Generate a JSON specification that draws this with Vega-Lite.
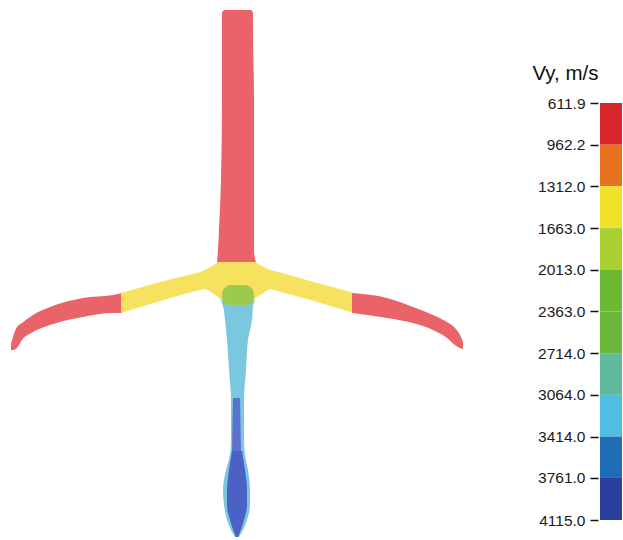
{
  "$schema": "https://vega.github.io/schema/vega-lite/v6.json",
  "padding": 0,
  "bounds": "flush",
  "spacing": 120,
  "background": "white",
  "config": {"font": "Liberation Sans", "view": {"stroke": null}},
  "datasets": {
    "body": [
      {"part": "stem", "lo": 611.9, "v": 265, "xl": -6.5, "xr": 7},
      {"part": "stem", "lo": 611.9, "v": 263.5, "xl": -7.5, "xr": 8},
      {"part": "stem", "lo": 611.9, "v": 257.5, "xl": -7.5, "xr": 8},
      {"part": "stem", "lo": 611.9, "v": 220, "xl": -7.5, "xr": 8.5},
      {"part": "stem", "lo": 611.9, "v": 180, "xl": -8, "xr": 8.5},
      {"part": "stem", "lo": 611.9, "v": 155, "xl": -9, "xr": 8.5},
      {"part": "stem", "lo": 611.9, "v": 145, "xl": -9.5, "xr": 8.5},
      {"part": "stem", "lo": 611.9, "v": 138.5, "xl": -10, "xr": 9.5},
      {"part": "junction", "lo": 1312.0, "v": 139, "xl": -9.5, "xr": 9},
      {"part": "junction", "lo": 1312.0, "v": 137.5, "xl": -11.5, "xr": 11.5},
      {"part": "junction", "lo": 1312.0, "v": 136, "xl": -14, "xr": 14.5},
      {"part": "junction", "lo": 1312.0, "v": 133.5, "xl": -18.5, "xr": 18.5},
      {"part": "junction", "lo": 1312.0, "v": 128, "xl": -19, "xr": 19},
      {"part": "junction", "lo": 1312.0, "v": 124, "xl": -13, "xr": 14},
      {"part": "junction", "lo": 1312.0, "v": 121, "xl": -9, "xr": 9.5},
      {"part": "junction", "lo": 1312.0, "v": 119, "xl": -7.5, "xr": 8},
      {"part": "lower", "lo": 3064.0, "v": 120, "xl": -8, "xr": 9},
      {"part": "lower", "lo": 3064.0, "v": 117, "xl": -7, "xr": 8},
      {"part": "lower", "lo": 3064.0, "v": 110, "xl": -6, "xr": 7.5},
      {"part": "lower", "lo": 3064.0, "v": 100, "xl": -5, "xr": 5.5},
      {"part": "lower", "lo": 3064.0, "v": 85, "xl": -4, "xr": 4.5},
      {"part": "lower", "lo": 3064.0, "v": 70, "xl": -3, "xr": 3.5},
      {"part": "lower", "lo": 3064.0, "v": 50, "xl": -3, "xr": 3.5},
      {"part": "lower", "lo": 3064.0, "v": 42.5, "xl": -3.5, "xr": 4},
      {"part": "lower", "lo": 3064.0, "v": 35, "xl": -5.5, "xr": 5.5},
      {"part": "lower", "lo": 3064.0, "v": 25, "xl": -7, "xr": 6.5},
      {"part": "lower", "lo": 3064.0, "v": 17.5, "xl": -6.5, "xr": 6.5},
      {"part": "lower", "lo": 3064.0, "v": 10, "xl": -5, "xr": 5},
      {"part": "lower", "lo": 3064.0, "v": 5, "xl": -3, "xr": 3},
      {"part": "lower", "lo": 3064.0, "v": 1.5, "xl": -1, "xr": 1},
      {"part": "blotch", "lo": 1663.0, "v": 127.5, "xl": -4, "xr": 5},
      {"part": "blotch", "lo": 1663.0, "v": 125, "xl": -7, "xr": 8},
      {"part": "blotch", "lo": 1663.0, "v": 122, "xl": -7.5, "xr": 8.5},
      {"part": "blotch", "lo": 1663.0, "v": 119, "xl": -6.5, "xr": 7.5},
      {"part": "blotch", "lo": 1663.0, "v": 117.5, "xl": -5, "xr": 5.5},
      {"part": "needle", "lo": 3414.0, "v": 71, "xl": -2, "xr": 1.5},
      {"part": "needle", "lo": 3414.0, "v": 44, "xl": -2.5, "xr": 2},
      {"part": "bulb", "lo": 3761.0, "v": 44.5, "xl": -2.5, "xr": 2.5},
      {"part": "bulb", "lo": 3761.0, "v": 35, "xl": -4, "xr": 4},
      {"part": "bulb", "lo": 3761.0, "v": 25, "xl": -5, "xr": 5},
      {"part": "bulb", "lo": 3761.0, "v": 17.5, "xl": -5, "xr": 5},
      {"part": "bulb", "lo": 3761.0, "v": 10, "xl": -3.5, "xr": 3.5},
      {"part": "bulb", "lo": 3761.0, "v": 4, "xl": -1.5, "xr": 1.5},
      {"part": "bulb", "lo": 3761.0, "v": 1.5, "xl": -0.5, "xr": 0.5}
    ],
    "arms": [
      {"part": "leftTip", "lo": 611.9, "u": -113, "top": 98, "bottom": 95},
      {"part": "leftTip", "lo": 611.9, "u": -112, "top": 101.5, "bottom": 95},
      {"part": "leftTip", "lo": 611.9, "u": -110, "top": 106.5, "bottom": 96},
      {"part": "leftTip", "lo": 611.9, "u": -107.5, "top": 108.5, "bottom": 100},
      {"part": "leftTip", "lo": 611.9, "u": -102, "top": 112.5, "bottom": 104},
      {"part": "leftTip", "lo": 611.9, "u": -93.5, "top": 116.5, "bottom": 107.5},
      {"part": "leftTip", "lo": 611.9, "u": -77, "top": 121, "bottom": 111.5},
      {"part": "leftTip", "lo": 611.9, "u": -62, "top": 122.5, "bottom": 113.5},
      {"part": "leftTip", "lo": 611.9, "u": -57.5, "top": 123.5, "bottom": 113.5},
      {"part": "leftArm", "lo": 1312.0, "u": -58, "top": 123.5, "bottom": 113.5},
      {"part": "leftArm", "lo": 1312.0, "u": -38.5, "top": 129, "bottom": 119.5},
      {"part": "leftArm", "lo": 1312.0, "u": -18.5, "top": 134, "bottom": 125},
      {"part": "leftArm", "lo": 1312.0, "u": -10, "top": 136.5, "bottom": 127},
      {"part": "rightArm", "lo": 1312.0, "u": 10, "top": 136.5, "bottom": 127.5},
      {"part": "rightArm", "lo": 1312.0, "u": 18.5, "top": 134.5, "bottom": 125},
      {"part": "rightArm", "lo": 1312.0, "u": 38.5, "top": 129, "bottom": 119.5},
      {"part": "rightArm", "lo": 1312.0, "u": 58.5, "top": 123.5, "bottom": 113.5},
      {"part": "rightTip", "lo": 611.9, "u": 57.5, "top": 123.5, "bottom": 113.5},
      {"part": "rightTip", "lo": 611.9, "u": 75, "top": 121, "bottom": 111},
      {"part": "rightTip", "lo": 611.9, "u": 88, "top": 116.5, "bottom": 108.5},
      {"part": "rightTip", "lo": 611.9, "u": 98, "top": 112.5, "bottom": 105},
      {"part": "rightTip", "lo": 611.9, "u": 105, "top": 109, "bottom": 101},
      {"part": "rightTip", "lo": 611.9, "u": 109, "top": 106, "bottom": 97.5},
      {"part": "rightTip", "lo": 611.9, "u": 111.5, "top": 102.5, "bottom": 96},
      {"part": "rightTip", "lo": 611.9, "u": 113, "top": 99, "bottom": 95.5}
    ],
    "bands": [
      {"lo": 611.9, "hi": 962.2},
      {"lo": 962.2, "hi": 1312.0},
      {"lo": 1312.0, "hi": 1663.0},
      {"lo": 1663.0, "hi": 2013.0},
      {"lo": 2013.0, "hi": 2363.0},
      {"lo": 2363.0, "hi": 2714.0},
      {"lo": 2714.0, "hi": 3064.0},
      {"lo": 3064.0, "hi": 3414.0},
      {"lo": 3414.0, "hi": 3761.0},
      {"lo": 3761.0, "hi": 4115.0}
    ]
  },
  "resolve": {"scale": {"color": "independent"}},
  "hconcat": [
    {
      "width": 480,
      "height": 540,
      "layer": [
        {
          "data": {"name": "arms"},
          "mark": {"type": "area", "orient": "vertical", "interpolate": "monotone"},
          "encoding": {
            "x": {"field": "u", "type": "quantitative", "scale": {"domain": [-118.5, 121.5], "nice": false, "zero": false}, "axis": null},
            "y": {"field": "top", "type": "quantitative", "stack": null, "scale": {"domain": [0, 270], "nice": false, "zero": false}, "axis": null},
            "y2": {"field": "bottom"},
            "detail": {"field": "part"},
            "color": {"field": "lo", "type": "ordinal", "legend": null,
              "scale": {"domain": [611.9, 1312, 1663, 3064, 3414, 3761],
                        "range": ["#ea6369", "#f6e25e", "#9bca4d", "#7bc7df", "#5b72cd", "#4c60c5"]}}
          }
        },
        {"data": {"name": "body"}, "transform": [{"filter": "datum.part === 'stem'"}],
          "mark": {"type": "area", "orient": "horizontal", "interpolate": "monotone"},
          "encoding": {"y": {"field": "v", "type": "quantitative", "scale": {"domain": [0, 270], "nice": false, "zero": false}, "axis": null},
            "x": {"field": "xl", "type": "quantitative", "stack": null, "scale": {"domain": [-118.5, 121.5], "nice": false, "zero": false}, "axis": null},
            "x2": {"field": "xr"}, "color": {"field": "lo", "type": "ordinal", "legend": null}}},
        {"data": {"name": "body"}, "transform": [{"filter": "datum.part === 'junction'"}],
          "mark": {"type": "area", "orient": "horizontal", "interpolate": "monotone"},
          "encoding": {"y": {"field": "v", "type": "quantitative", "axis": null},
            "x": {"field": "xl", "type": "quantitative", "stack": null, "axis": null},
            "x2": {"field": "xr"}, "color": {"field": "lo", "type": "ordinal", "legend": null}}},
        {"data": {"name": "body"}, "transform": [{"filter": "datum.part === 'lower'"}],
          "mark": {"type": "area", "orient": "horizontal", "interpolate": "monotone"},
          "encoding": {"y": {"field": "v", "type": "quantitative", "axis": null},
            "x": {"field": "xl", "type": "quantitative", "stack": null, "axis": null},
            "x2": {"field": "xr"}, "color": {"field": "lo", "type": "ordinal", "legend": null}}},
        {"data": {"name": "body"}, "transform": [{"filter": "datum.part === 'blotch'"}],
          "mark": {"type": "area", "orient": "horizontal", "interpolate": "monotone"},
          "encoding": {"y": {"field": "v", "type": "quantitative", "axis": null},
            "x": {"field": "xl", "type": "quantitative", "stack": null, "axis": null},
            "x2": {"field": "xr"}, "color": {"field": "lo", "type": "ordinal", "legend": null}}},
        {"data": {"name": "body"}, "transform": [{"filter": "datum.part === 'needle'"}],
          "mark": {"type": "area", "orient": "horizontal"},
          "encoding": {"y": {"field": "v", "type": "quantitative", "axis": null},
            "x": {"field": "xl", "type": "quantitative", "stack": null, "axis": null},
            "x2": {"field": "xr"}, "color": {"field": "lo", "type": "ordinal", "legend": null}}},
        {"data": {"name": "body"}, "transform": [{"filter": "datum.part === 'bulb'"}],
          "mark": {"type": "area", "orient": "horizontal", "interpolate": "monotone"},
          "encoding": {"y": {"field": "v", "type": "quantitative", "axis": null},
            "x": {"field": "xl", "type": "quantitative", "stack": null, "axis": null},
            "x2": {"field": "xr"}, "color": {"field": "lo", "type": "ordinal", "legend": null}}}
      ]
    },
    {
      "width": 22,
      "height": 540,
      "data": {"name": "bands"},
      "mark": {"type": "rect"},
      "encoding": {
        "y": {"field": "lo", "type": "quantitative",
          "scale": {"domain": [-253.4, 4283], "reverse": true, "nice": false, "zero": false},
          "axis": {
            "values": [611.9, 962.2, 1312, 1663, 2013, 2363, 2714, 3064, 3414, 3761, 4115],
            "format": ".1f", "domain": false, "grid": false, "offset": 2,
            "tickSize": 8, "tickWidth": 1.5, "tickColor": "#111",
            "labelFontSize": 15.5, "labelColor": "#1a1a1a", "labelPadding": 5, "labelOverlap": false, "labelFlush": false,
            "title": "Vy, m/s", "titleAngle": 0, "titleAlign": "right", "titleBaseline": "alphabetic",
            "titleX": 0, "titleY": 79, "titleFontSize": 20.5, "titleFontWeight": "normal", "titleColor": "#111"
          }},
        "y2": {"field": "hi"},
        "color": {"field": "lo", "type": "ordinal", "legend": null,
          "scale": {"domain": [611.9, 962.2, 1312, 1663, 2013, 2363, 2714, 3064, 3414, 3761],
                    "range": ["#d8262b", "#e8721e", "#f2e12b", "#a9cf32", "#6db933", "#6ab739", "#60bb9e", "#4fbee1", "#1e6db6", "#2a409e"]}}
      }
    }
  ]
}
